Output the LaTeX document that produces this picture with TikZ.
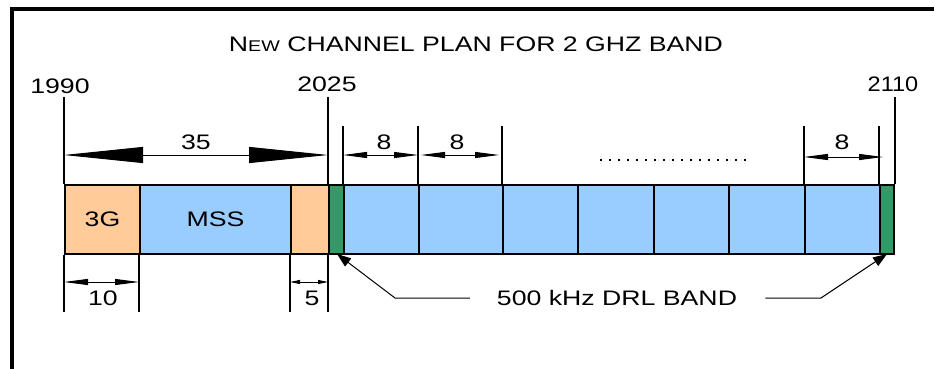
\documentclass[tikz,border=0pt]{standalone}
\usepackage{fontspec}
\usepackage{graphicx}
\setmainfont{Liberation Sans}
\usetikzlibrary{arrows.meta}
\definecolor{orng}{HTML}{FFCC99}
\definecolor{lblue}{HTML}{99CCFF}
\definecolor{dgreen}{HTML}{339966}
\newcommand{\wide}[1]{\scalebox{1.27}[1]{#1}}
\begin{document}
\begin{tikzpicture}[x=1pt,y=-1pt,
  seg/.style={draw=black,line width=2pt,minimum height=69pt,inner sep=0pt,anchor=north west,font=\fontsize{21}{25}\selectfont},
  txt/.style={inner sep=0pt,font=\fontsize{21}{25}\selectfont},
  ext/.style={line width=1.2pt},
  bigdim/.style={line width=0.9pt,{Triangle[length=79pt,width=16pt]}-{Triangle[length=79pt,width=16pt]}},
  smalldim/.style={line width=0.9pt,{Triangle[length=24pt,width=6pt]}-{Triangle[length=24pt,width=6pt]}},
  tinydim/.style={line width=0.9pt,{Triangle[length=10pt,width=4pt]}-{Triangle[length=10pt,width=4pt]}},
  leader/.style={line width=1pt,-{Triangle[length=14pt,width=10pt]}}]
\useasboundingbox (0,0) rectangle (934,369);
\fill[white] (0,0) rectangle (934,369);
% frame
\draw[line width=4pt] (12,369) -- (12,9) -- (934,9);
% title
\node[txt] (title) at (476,44) {\wide{N{\fontsize{15.5}{20}\selectfont EW} CHANNEL PLAN FOR 2 GHZ BAND}};
% bar segments
\node[seg,fill=orng,minimum width=75pt] (g3) at (64,184) {\wide{3G}};
\node[seg,fill=lblue,minimum width=151pt] (mss) at (139,184) {\wide{MSS}};
\node[seg,fill=orng,minimum width=38pt] (o2) at (290,184) {};
\node[seg,fill=dgreen,minimum width=15pt] (d1) at (328,184) {};
\node[seg,fill=lblue,minimum width=75pt] (c1) at (343,184) {};
\node[seg,fill=lblue,minimum width=84pt] (c2) at (418,184) {};
\node[seg,fill=lblue,minimum width=75pt] (c3) at (502,184) {};
\node[seg,fill=lblue,minimum width=76pt] (c4) at (577,184) {};
\node[seg,fill=lblue,minimum width=75pt] (c5) at (653,184) {};
\node[seg,fill=lblue,minimum width=76pt] (c6) at (728,184) {};
\node[seg,fill=lblue,minimum width=75pt] (c7) at (804,184) {};
\node[seg,fill=dgreen,minimum width=14pt] (d2) at (879,184) {};
% frequency labels
\node[txt] (f1990) at (60,86) {\wide{1990}};
\node[txt] (f2025) at (327,84) {\wide{2025}};
\node[txt] (f2110) at (893,84) {\scalebox{1.12}[1]{2110}};
% extension lines (top)
\draw[ext] (g3.north west) -- ++(0,-87);
\draw[ext] (d1.north west) -- ++(0,-87);
\draw[ext] (d2.north east) -- ++(0,-87);
\draw[ext] (c1.north west) -- ++(0,-58);
\draw[ext] (c2.north west) -- ++(0,-58);
\draw[ext] (c3.north west) -- ++(0,-58);
\draw[ext] (c7.north west) -- ++(0,-58);
\draw[ext] (d2.north west) -- ++(0,-58);
% extension lines (bottom)
\draw[ext] (g3.south west) -- ++(0,57);
\draw[ext] (mss.south west) -- ++(0,57);
\draw[ext] (o2.south west) -- ++(0,57);
\draw[ext] (d1.south west) -- ++(0,57);
% dimension lines
\coordinate (a1) at (64,155); \coordinate (a2) at (328,155);
\draw[bigdim] (a1) -- (a2);
\node[txt] (l35) at (196,142) {\wide{35}};
\coordinate (b1) at (343,155); \coordinate (b2) at (418,155);
\draw[smalldim] (b1) -- (b2);
\node[txt] (l8a) at (384,142) {\wide{8}};
\coordinate (b3) at (421,155); \coordinate (b4) at (499,155);
\draw[smalldim] (b3) -- (b4);
\node[txt] (l8b) at (457,142) {\wide{8}};
\coordinate (b5) at (804,157); \coordinate (b6) at (883,157);
\draw[smalldim] (b5) -- (b6);
\node[txt] (l8c) at (842,142) {\wide{8}};
% continuation dots
\coordinate (dt1) at (600,160); \coordinate (dt2) at (746,160);
\draw[line width=2pt,dash pattern=on 2pt off 7pt] (dt1) -- (dt2);
\coordinate (e1) at (64,282); \coordinate (e2) at (139,282);
\draw[smalldim] (e1) -- (e2);
\node[txt] (l10) at (103,298) {\wide{10}};
\coordinate (e3) at (290,282); \coordinate (e4) at (328,282);
\draw[tinydim] (e3) -- (e4);
\node[txt] (l5) at (312,298) {\wide{5}};
% DRL label and leaders
\node[txt] (drl) at (617,298) {\wide{500 kHz DRL BAND}};
\coordinate (lk1) at (395,298);
\coordinate (lk2) at (821,298);
\draw[leader] ([xshift=-27pt]drl.west) -- (lk1) -- (337,254);
\draw[leader] ([xshift=28pt]drl.east) -- (lk2) -- (887,254);
\end{tikzpicture}
\end{document}
